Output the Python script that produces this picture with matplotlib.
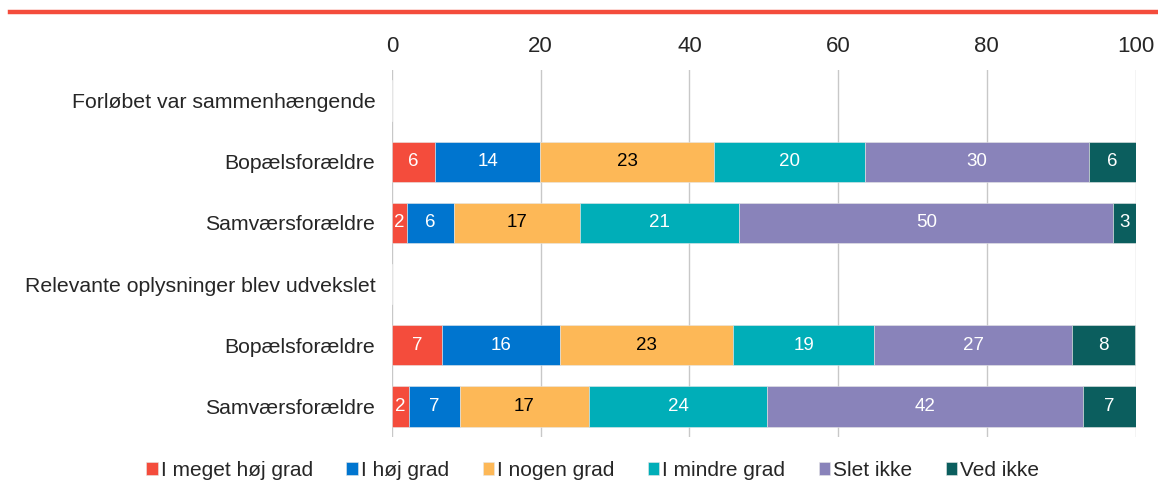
import matplotlib.pyplot as plt
import numpy as np

plt.rcParams['font.family'] = ['Liberation Sans', 'DejaVu Sans']

# rows (top to bottom); header rows carry no bars
rows = ['Forløbet var sammenhængende', 'Bopælsforældre', 'Samværsforældre',
        'Relevante oplysninger blev udvekslet', 'Bopælsforældre', 'Samværsforældre']
series = ['I meget høj grad', 'I høj grad', 'I nogen grad', 'I mindre grad', 'Slet ikke', 'Ved ikke']
colors = ['#F44C3C', '#0075CF', '#FDB857', '#00AEB8', '#8983BA', '#0B5E5E']
text_colors = ['white', 'white', 'black', 'white', 'white', 'white']

# shares (%) per row, one list per series; header rows are 0
meget_hoej = [0, 5.8, 2.0, 0, 6.7, 2.3]
hoej = [0, 14.1, 6.4, 0, 15.9, 6.8]
nogen = [0, 23.4, 16.9, 0, 23.3, 17.4]
mindre = [0, 20.3, 21.4, 0, 18.9, 24.0]
slet_ikke = [0, 30.2, 50.3, 0, 26.7, 42.4]
ved_ikke = [0, 6.2, 3.0, 0, 8.4, 7.1]
data = [meget_hoej, hoej, nogen, mindre, slet_ikke, ved_ikke]

fig = plt.figure(figsize=(11.58, 4.8), dpi=100)
# red rule along the top
fig.add_artist(plt.Line2D([0.009, 1.0], [0.975, 0.975], color='#F44C3C', lw=3.2))

ax = fig.add_axes([0.3385, 0.0896, 0.6421, 0.7646])
y = np.arange(len(rows))
left = np.zeros(len(rows))
for vals, col, tc, name in zip(data, colors, text_colors, series):
    vals = np.array(vals)
    bars = ax.barh(y, vals, left=left, height=0.66, color=col, label=name,
                   edgecolor='#E6E6E6', linewidth=0.4, zorder=2)
    for b, v in zip(bars, vals):
        if v > 0:
            ax.text(b.get_x() + b.get_width() / 2, b.get_y() + b.get_height() / 2,
                    f'{v:.0f}', ha='center', va='center', color=tc, fontsize=13.5, zorder=3)
    left += vals

ax.set_xlim(0, 100)
ax.set_ylim(5.5, -0.5)
ax.set_xticks(range(0, 101, 20))
ax.xaxis.tick_top()
ax.tick_params(axis='x', length=0, pad=9, labelsize=16, labelcolor='#262626')
ax.set_yticks(y)
ax.set_yticklabels(rows, fontsize=15.3, color='#262626')
ax.tick_params(axis='y', length=0, pad=12)
ax.grid(axis='x', color='#C8C8C8', lw=1, zorder=0)
for s in ax.spines.values():
    s.set_visible(False)

leg = fig.legend(loc='center', bbox_to_anchor=(0.512, 0.02), ncol=6, frameon=False,
                 fontsize=15, handlelength=0.55, handleheight=0.6, handletextpad=0.15,
                 columnspacing=1.6, labelcolor='#262626')

fig.savefig('out.png', dpi=100)
